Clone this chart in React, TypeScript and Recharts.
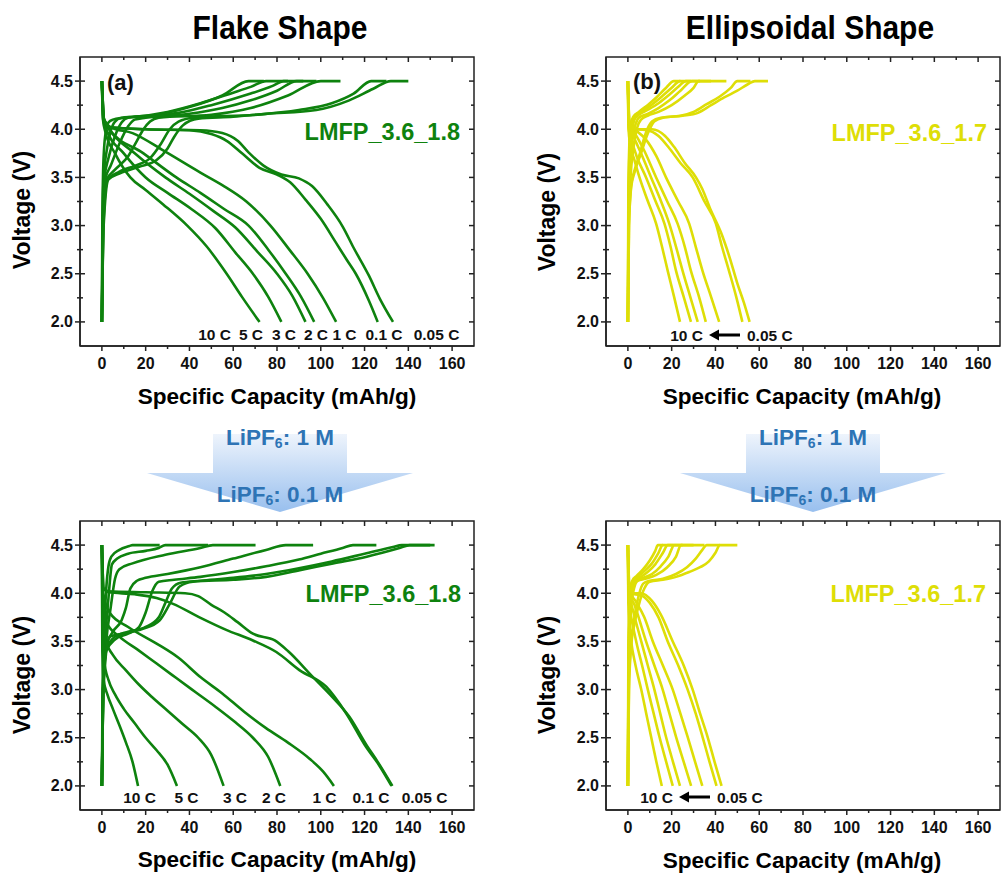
import React from 'react';
import { LineChart, Line, XAxis, YAxis, ReferenceArea } from 'recharts';

type Pt = [number, number];

// ---------- labels ----------
const RATES = ['10 C', '5 C', '3 C', '2 C', '1 C', '0.1 C', '0.05 C'];
const X_TICKS = [0, 10, 20, 30, 40, 50, 60, 70, 80, 90, 100, 110, 120, 130, 140, 150, 160];
const Y_TICKS = [2, 2.25, 2.5, 2.75, 3, 3.25, 3.5, 3.75, 4, 4.25, 4.5];
const X_DOMAIN: [number, number] = [-10, 170];
const Y_DOMAIN: [number, number] = [1.75, 4.75];

// ---------- Flake shape, LiPF6 1 M (order: 10C, 5C, 3C, 2C, 1C, 0.1C, 0.05C) ----------
const FLAKE_1M_CHARGE: Pt[][] = [
  [[0, 2], [0.2, 3.0], [0.5, 3.5], [1, 3.8], [2, 4.0], [3, 4.07], [5, 4.1], [10, 4.12], [25, 4.15], [40, 4.23], [55, 4.35], [67, 4.5], [74, 4.5]],
  [[0, 2], [0.3, 3.0], [0.8, 3.5], [2, 3.75], [4, 3.98], [6, 4.08], [9, 4.12], [15, 4.13], [30, 4.18], [45, 4.27], [60, 4.38], [68, 4.44], [75, 4.5], [85, 4.5]],
  [[0, 2], [0.4, 3.0], [1.2, 3.5], [3, 3.7], [6, 3.93], [9, 4.07], [12, 4.12], [18, 4.13], [35, 4.17], [50, 4.25], [68, 4.37], [78, 4.45], [83, 4.5], [92, 4.5]],
  [[0, 2], [0.5, 3.0], [1.5, 3.48], [4, 3.62], [8, 3.85], [12, 4.03], [15, 4.1], [20, 4.12], [40, 4.16], [55, 4.22], [68, 4.3], [80, 4.4], [89, 4.5], [98, 4.5]],
  [[0, 2], [0.6, 3.0], [2, 3.47], [6, 3.58], [12, 3.72], [16, 3.88], [19, 4.0], [22, 4.08], [26, 4.12], [50, 4.15], [68, 4.22], [85, 4.35], [100, 4.5], [109, 4.5]],
  [[0, 2], [0.7, 3.0], [2.5, 3.47], [8, 3.56], [15, 3.62], [22, 3.7], [27, 3.85], [31, 4.0], [35, 4.08], [42, 4.12], [70, 4.15], [90, 4.2], [105, 4.27], [115, 4.37], [123, 4.5], [130, 4.5]],
  [[0, 2], [0.8, 3.0], [3, 3.48], [8, 3.54], [17, 3.61], [25, 3.68], [30, 3.8], [33, 3.92], [37, 4.04], [44, 4.11], [60, 4.13], [75, 4.16], [98, 4.2], [113, 4.3], [124, 4.42], [132, 4.5], [140, 4.5]],
];
const FLAKE_1M_DISCHARGE: Pt[][] = [
  [[0, 4.5], [0.5, 4.1], [1.5, 3.98], [6, 3.75], [13, 3.5], [20, 3.37], [28, 3.22], [39, 3.0], [48, 2.78], [57, 2.5], [64, 2.26], [72, 2.0]],
  [[0, 4.5], [0.6, 4.1], [2, 4.0], [10, 3.75], [20, 3.5], [30, 3.34], [41, 3.17], [52, 2.97], [61, 2.72], [69, 2.5], [76, 2.26], [82, 2.0]],
  [[0, 4.5], [0.7, 4.1], [3, 4.01], [15, 3.75], [29, 3.5], [40, 3.33], [51, 3.15], [61, 2.98], [71, 2.73], [80, 2.5], [87, 2.27], [93, 2.0]],
  [[0, 4.5], [0.8, 4.1], [3, 4.01], [19, 3.75], [34, 3.5], [45, 3.34], [56, 3.17], [67, 3.0], [76, 2.75], [84, 2.5], [91, 2.26], [97, 2.0]],
  [[0, 4.5], [1, 4.1], [4, 4.02], [14, 3.96], [28, 3.78], [45, 3.55], [55, 3.42], [66, 3.25], [77, 3.0], [86, 2.74], [94, 2.5], [101, 2.25], [107, 2.0]],
  [[0, 4.5], [1, 4.1], [4, 4.02], [20, 4.0], [40, 3.99], [50, 3.95], [57, 3.88], [64, 3.75], [72, 3.6], [80, 3.53], [86, 3.45], [93, 3.27], [100, 3.07], [107, 2.82], [112, 2.64], [116, 2.5], [122, 2.22], [126, 2.0]],
  [[0, 4.5], [1, 4.1], [4, 4.02], [20, 4.0], [45, 3.99], [55, 3.96], [62, 3.88], [67, 3.76], [74, 3.62], [82, 3.53], [90, 3.49], [96, 3.41], [103, 3.22], [110, 2.99], [115, 2.77], [122, 2.48], [127, 2.24], [133, 2.0]],
];

// ---------- Ellipsoidal shape, LiPF6 1 M ----------
const ELLIP_1M_CHARGE: Pt[][] = [
  [[0, 2], [0.2, 3.3], [0.6, 3.8], [1.2, 4.05], [2.5, 4.13], [5, 4.18], [9, 4.25], [13, 4.33], [17, 4.42], [21, 4.5], [24, 4.5]],
  [[0, 2], [0.3, 3.3], [0.8, 3.8], [1.6, 4.05], [3, 4.13], [6, 4.18], [10, 4.24], [15, 4.33], [20, 4.43], [23.8, 4.5], [29, 4.5]],
  [[0, 2], [0.3, 3.2], [0.9, 3.7], [1.8, 3.95], [3, 4.1], [5, 4.15], [9, 4.2], [14, 4.27], [19, 4.36], [23, 4.44], [26.5, 4.5], [33, 4.5]],
  [[0, 2], [0.4, 3.2], [1, 3.6], [2, 3.9], [3.5, 4.05], [5, 4.12], [9, 4.16], [14, 4.22], [19, 4.3], [24, 4.4], [29.3, 4.5], [38, 4.5]],
  [[0, 2], [0.4, 3.1], [1.2, 3.5], [2.5, 3.8], [4, 4.0], [6, 4.1], [9, 4.14], [14, 4.18], [20, 4.25], [26, 4.35], [30, 4.43], [32.3, 4.5], [45, 4.5]],
  [[0, 2], [0.5, 3.0], [1.5, 3.42], [3, 3.57], [5.5, 3.75], [8, 3.95], [11, 4.08], [15, 4.12], [24, 4.14], [30, 4.18], [36, 4.26], [42, 4.34], [47, 4.43], [50, 4.5], [56, 4.5]],
  [[0, 2], [0.5, 3.0], [1.5, 3.4], [3, 3.55], [6, 3.75], [9, 3.95], [12, 4.08], [16, 4.12], [25, 4.14], [32, 4.17], [38, 4.25], [44, 4.33], [50, 4.4], [55, 4.47], [58, 4.5], [64, 4.5]],
];
const ELLIP_1M_DISCHARGE: Pt[][] = [
  [[0, 4.5], [0.3, 4.0], [1, 3.85], [3, 3.68], [5.3, 3.5], [9, 3.26], [12.9, 3.02], [15.6, 2.78], [18.2, 2.53], [21, 2.27], [23.8, 2.0]],
  [[0, 4.5], [0.4, 4.0], [1.5, 3.9], [4, 3.72], [8.3, 3.5], [12.5, 3.26], [16.7, 3.02], [19.5, 2.78], [22, 2.53], [25.5, 2.26], [28.8, 2.0]],
  [[0, 4.5], [0.5, 4.02], [2, 3.95], [6, 3.75], [10.6, 3.5], [15, 3.26], [18.9, 3.02], [22, 2.78], [25, 2.53], [28.5, 2.26], [31.9, 2.0]],
  [[0, 4.5], [0.6, 4.03], [2.5, 3.98], [7, 3.8], [12.9, 3.5], [18, 3.25], [22.7, 3.02], [26, 2.78], [28.8, 2.53], [32.5, 2.26], [35.6, 2.0]],
  [[0, 4.5], [0.7, 4.05], [3, 4.0], [8, 3.9], [13, 3.72], [17.4, 3.5], [23, 3.25], [28, 3.02], [31, 2.78], [34.1, 2.53], [38, 2.26], [41.7, 2.0]],
  [[0, 4.5], [0.8, 4.05], [4, 4.0], [9, 3.99], [14, 3.93], [19, 3.8], [24, 3.65], [29.6, 3.5], [35, 3.25], [40.2, 3.02], [43, 2.78], [46.2, 2.53], [49.5, 2.26], [52.3, 2.0]],
  [[0, 4.5], [0.8, 4.05], [4, 4.0], [11, 4.0], [17, 3.93], [21, 3.82], [26, 3.65], [31.1, 3.5], [34, 3.38], [37.5, 3.18], [42.5, 2.93], [46.6, 2.66], [50, 2.4], [53, 2.2], [55.6, 2.0]],
];

// ---------- Flake shape, LiPF6 0.1 M ----------
const FLAKE_01M_CHARGE: Pt[][] = [
  [[0, 2], [0.3, 3.0], [1, 3.6], [2, 4.05], [3, 4.28], [4.3, 4.38], [8, 4.45], [12.6, 4.49], [14, 4.5], [26.4, 4.5]],
  [[0, 2], [0.5, 3.0], [1.5, 3.5], [3, 3.95], [4.6, 4.3], [7, 4.36], [12, 4.41], [20, 4.44], [26, 4.47], [29, 4.5], [48.5, 4.5]],
  [[0, 2], [0.6, 3.0], [2, 3.5], [4, 3.85], [6, 4.15], [8, 4.25], [14, 4.31], [29, 4.4], [45, 4.47], [50.7, 4.5], [70.2, 4.5]],
  [[0, 2], [0.5, 3.0], [2, 3.45], [5, 3.6], [9, 3.72], [11, 3.85], [13, 4.05], [16, 4.13], [20, 4.16], [30, 4.2], [45, 4.27], [60, 4.36], [75, 4.45], [84, 4.5], [96.5, 4.5]],
  [[0, 2], [0.6, 3.0], [2, 3.4], [6, 3.52], [12, 3.58], [17, 3.65], [20, 3.8], [23, 4.02], [26, 4.12], [33, 4.14], [45, 4.17], [60, 4.22], [75, 4.28], [90, 4.35], [100, 4.41], [110, 4.47], [114.7, 4.5], [125.4, 4.5]],
  [[0, 2], [0.6, 3.0], [2, 3.42], [6, 3.55], [12, 3.6], [20, 3.65], [26, 3.75], [29, 3.9], [32, 4.05], [36, 4.11], [45, 4.13], [60, 4.16], [75, 4.2], [90, 4.26], [105, 4.33], [120, 4.41], [133, 4.48], [137, 4.5], [150, 4.5]],
  [[0, 2], [0.7, 3.0], [3.5, 3.55], [9.6, 3.58], [18.7, 3.63], [26.4, 3.72], [31, 3.89], [35.5, 4.07], [41.6, 4.12], [60, 4.14], [75, 4.17], [90.4, 4.24], [105.6, 4.31], [121, 4.38], [136, 4.47], [140.6, 4.5], [152, 4.5]],
];
const FLAKE_01M_DISCHARGE: Pt[][] = [
  [[0, 4.5], [0.2, 3.4], [0.8, 3.1], [2.5, 2.95], [5, 2.8], [8, 2.63], [11, 2.45], [14, 2.25], [16.5, 2.0]],
  [[0, 4.5], [0.3, 3.7], [1, 3.3], [3, 3.1], [6, 2.95], [10, 2.8], [15, 2.65], [20, 2.5], [25, 2.37], [30, 2.22], [34.3, 2.0]],
  [[0, 4.5], [0.4, 3.8], [1.5, 3.52], [5, 3.36], [11, 3.2], [17, 3.05], [23, 2.92], [30, 2.78], [37, 2.64], [44, 2.5], [50, 2.32], [55.6, 2.0]],
  [[0, 4.5], [0.5, 3.95], [2, 3.7], [8, 3.55], [16, 3.42], [25, 3.27], [34, 3.12], [43, 2.97], [52, 2.82], [61, 2.66], [69, 2.5], [76, 2.3], [81.5, 2.0]],
  [[0, 4.5], [0.6, 4.0], [3.5, 3.8], [12, 3.65], [24.8, 3.48], [35, 3.33], [45, 3.13], [55, 2.96], [65, 2.77], [75, 2.6], [85, 2.45], [95, 2.28], [101, 2.15], [106, 2.0]],
  [[0, 4.5], [0.8, 4.05], [3, 4.01], [15, 3.99], [25, 3.95], [32.5, 3.89], [44.6, 3.75], [56.8, 3.62], [69, 3.51], [79.7, 3.39], [90.4, 3.2], [102.5, 3.03], [111.7, 2.75], [120.8, 2.4], [126.5, 2.22], [132.3, 2.0]],
  [[0, 4.5], [0.8, 4.05], [3, 4.02], [20, 4.01], [38, 4.0], [44, 3.97], [50, 3.88], [56, 3.8], [62, 3.7], [69, 3.58], [79, 3.51], [85, 3.4], [96, 3.14], [105, 2.93], [113, 2.72], [121, 2.42], [126, 2.25], [132.7, 2.0]],
];

// ---------- Ellipsoidal shape, LiPF6 0.1 M ----------
const ELLIP_01M_CHARGE: Pt[][] = [
  [[0, 2], [0.2, 3.3], [0.5, 3.8], [1, 4.05], [2, 4.13], [4, 4.18], [7, 4.25], [10, 4.34], [12.5, 4.44], [13.7, 4.5], [16, 4.5]],
  [[0, 2], [0.3, 3.3], [0.7, 3.8], [1.4, 4.05], [2.5, 4.13], [5, 4.18], [8, 4.24], [11, 4.31], [14, 4.42], [15.9, 4.5], [21, 4.5]],
  [[0, 2], [0.3, 3.3], [0.9, 3.8], [1.8, 4.05], [3, 4.13], [6, 4.17], [9, 4.22], [12.5, 4.3], [16, 4.42], [18.2, 4.5], [25, 4.5]],
  [[0, 2], [0.4, 3.3], [1.1, 3.8], [2.2, 4.05], [3.5, 4.13], [7, 4.16], [11, 4.2], [15, 4.28], [18.5, 4.38], [21.2, 4.5], [30, 4.5]],
  [[0, 2], [0.4, 3.3], [1.3, 3.8], [2.8, 4.05], [4.5, 4.13], [8, 4.15], [13, 4.19], [18, 4.27], [22, 4.38], [24.3, 4.5], [35, 4.5]],
  [[0, 2], [0.5, 3.1], [1.5, 3.5], [3, 3.75], [5, 3.98], [7, 4.1], [10, 4.13], [16, 4.15], [22, 4.2], [27, 4.27], [31, 4.36], [34, 4.45], [36, 4.5], [42, 4.5]],
  [[0, 2], [0.5, 3.0], [1.5, 3.45], [3, 3.68], [5, 3.88], [7.5, 4.05], [10, 4.12], [16, 4.14], [22, 4.17], [28, 4.22], [33, 4.27], [37, 4.33], [40, 4.42], [42, 4.5], [50, 4.5]],
];
const ELLIP_01M_DISCHARGE: Pt[][] = [
  [[0, 4.5], [0.2, 3.9], [0.6, 3.7], [1.5, 3.5], [3.5, 3.25], [6.1, 3.0], [8.3, 2.76], [10.6, 2.51], [13, 2.25], [15.5, 2.0]],
  [[0, 4.5], [0.3, 3.95], [1.2, 3.8], [3.8, 3.5], [6.5, 3.25], [9.1, 3.0], [11.8, 2.75], [14.4, 2.51], [17.5, 2.25], [20.5, 2.0]],
  [[0, 4.5], [0.4, 4.0], [2, 3.85], [6.1, 3.5], [9.1, 3.25], [12.1, 3.0], [14.8, 2.75], [17.4, 2.51], [20.6, 2.25], [23.8, 2.0]],
  [[0, 4.5], [0.5, 4.02], [3, 3.88], [8.3, 3.5], [12.1, 3.25], [15.9, 3.0], [19, 2.75], [22, 2.51], [25.5, 2.25], [28.9, 2.0]],
  [[0, 4.5], [0.6, 4.03], [3.5, 3.92], [7.5, 3.75], [11.4, 3.5], [16, 3.25], [20.5, 3.0], [24, 2.75], [27.3, 2.51], [30.7, 2.25], [34, 2.0]],
  [[0, 4.5], [0.8, 4.03], [3, 3.99], [6, 3.98], [10, 3.9], [14, 3.75], [18.2, 3.5], [23, 3.25], [27.3, 3.0], [31, 2.75], [34.1, 2.51], [37.3, 2.25], [40.5, 2.0]],
  [[0, 4.5], [0.8, 4.03], [3, 4.0], [6, 4.0], [11, 3.92], [15, 3.78], [20.5, 3.5], [25.5, 3.25], [29.6, 3.0], [33, 2.75], [36.4, 2.51], [39.6, 2.25], [42.8, 2.0]],
];

// ---------- styling / layout ----------
const FONT = "'Liberation Sans', Arial, Helvetica, sans-serif";
const GREEN = '#0E820E';
const YELLOW = '#DEDE06';
const AXIS = '#222222';
const LABEL_BLUE = '#2E74B5';
const PW = 394;
const PH = 289;

const toData = (pts: Pt[]) => pts.map(([x, y]) => ({ x, y }));

const XTick = (props: any) => {
  const { x, y, payload } = props;
  const v = payload.value;
  const major = Math.abs(v % 20) < 1e-6;
  const len = major ? 5 : 3;
  return (
    <g>
      <line x1={x} y1={y} x2={x} y2={y + len} stroke={AXIS} strokeWidth={1.5} />
      <line x1={x} y1={y - PH} x2={x} y2={y - PH + len} stroke={AXIS} strokeWidth={1.5} />
      {major && (
        <text x={x} y={y + 17} textAnchor="middle" dominantBaseline="central" fontFamily={FONT} fontWeight="bold" fontSize={16} fill="#111">
          {v}
        </text>
      )}
    </g>
  );
};

const YTick = (props: any) => {
  const { x, y, payload } = props;
  const v = payload.value;
  const major = Math.abs(v * 2 - Math.round(v * 2)) < 1e-6;
  const len = major ? 5 : 3;
  return (
    <g>
      <line x1={x - len} y1={y} x2={x + len} y2={y} stroke={AXIS} strokeWidth={1.5} />
      <line x1={x + PW - len} y1={y} x2={x + PW} y2={y} stroke={AXIS} strokeWidth={1.5} />
      {major && (
        <text x={x - 7} y={y} textAnchor="end" dominantBaseline="central" fontFamily={FONT} fontWeight="bold" fontSize={16} fill="#111">
          {v.toFixed(1)}
        </text>
      )}
    </g>
  );
};

type PanelProps = { left: number; top: number; color: string; charge: Pt[][]; discharge: Pt[][] };

const Panel = ({ left, top, color, charge, discharge }: PanelProps) => {
  const W = 80 + PW + 8;
  const H = 57 + PH + 70;
  const curves = [...charge, ...discharge];
  return (
    <div style={{ position: 'absolute', left: left - 80, top: top - 57 }}>
      <LineChart width={W} height={H} margin={{ top: 57, right: 8, left: 40, bottom: 40 }}>
        <XAxis
          type="number"
          dataKey="x"
          domain={X_DOMAIN}
          ticks={X_TICKS}
          interval={0}
          allowDataOverflow
          height={30}
          tickSize={0}
          tickMargin={0}
          tickLine={false}
          axisLine={{ stroke: AXIS, strokeWidth: 1.5 }}
          tick={(p: any) => <XTick {...p} />}
        />
        <YAxis
          type="number"
          domain={Y_DOMAIN}
          ticks={Y_TICKS}
          interval={0}
          allowDataOverflow
          width={40}
          tickSize={0}
          tickMargin={0}
          tickLine={false}
          axisLine={{ stroke: AXIS, strokeWidth: 1.5 }}
          tick={(p: any) => <YTick {...p} />}
        />
        {curves.map((c, i) => (
          <Line
            key={`c${i}`}
            data={toData(c)}
            dataKey="y"
            type="monotone"
            stroke={color}
            strokeWidth={2.6}
            dot={false}
            activeDot={false}
            isAnimationActive={false}
          />
        ))}
        <ReferenceArea x1={X_DOMAIN[0]} x2={X_DOMAIN[1]} y1={Y_DOMAIN[0]} y2={Y_DOMAIN[1]} fill="none" stroke={AXIS} strokeWidth={1.5} />
      </LineChart>
    </div>
  );
};

const FLAKE_RATE_X_TOP = [214.5, 251, 284, 316, 344.5, 384, 436.5];
const FLAKE_RATE_X_BOTTOM = [139.5, 186.5, 235, 274, 324.5, 371, 424.5];

const txt = (extra: any) => ({ fontFamily: FONT, fontWeight: 'bold' as const, ...extra });

const BigArrow = ({ cx, id }: { cx: number; id: string }) => (
  <g>
    <path
      d={`M ${cx - 67} 434 L ${cx + 67} 434 L ${cx + 67} 473 L ${cx + 133} 473 L ${cx} 512 L ${cx - 133} 473 L ${cx - 67} 473 Z`}
      fill={`url(#${id})`}
    />
    <text x={cx} y={437} textAnchor="middle" dominantBaseline="central" {...txt({ fontSize: 22.5, fill: LABEL_BLUE })}>
      LiPF<tspan fontSize={14} dy={6}>6</tspan>
      <tspan dy={-6}>: 1 M</tspan>
    </text>
    <text x={cx} y={494} textAnchor="middle" dominantBaseline="central" {...txt({ fontSize: 22.5, fill: LABEL_BLUE })}>
      LiPF<tspan fontSize={14} dy={6}>6</tspan>
      <tspan dy={-6}>: 0.1 M</tspan>
    </text>
  </g>
);

const RateArrow = ({ x10, y }: { x10: number; y: number }) => (
  <g>
    <text x={x10} y={y} textAnchor="end" dominantBaseline="central" {...txt({ fontSize: 15.5, fill: '#111' })}>
      {RATES[0]}
    </text>
    <line x1={x10 + 14} y1={y} x2={x10 + 37} y2={y} stroke="#000" strokeWidth={3} />
    <polygon points={`${x10 + 6},${y} ${x10 + 16},${y - 5.5} ${x10 + 16},${y + 5.5}`} fill="#000" />
    <text x={x10 + 44} y={y} textAnchor="start" dominantBaseline="central" {...txt({ fontSize: 15.5, fill: '#111' })}>
      {RATES[6]}
    </text>
  </g>
);

export default function App() {
  return (
    <div style={{ position: 'absolute', left: 0, top: 0, width: 1001, height: 876, background: '#fff', overflow: 'hidden' }}>
      <Panel left={80} top={57} color={GREEN} charge={FLAKE_1M_CHARGE} discharge={FLAKE_1M_DISCHARGE} />
      <Panel left={606} top={57} color={YELLOW} charge={ELLIP_1M_CHARGE} discharge={ELLIP_1M_DISCHARGE} />
      <Panel left={80} top={521} color={GREEN} charge={FLAKE_01M_CHARGE} discharge={FLAKE_01M_DISCHARGE} />
      <Panel left={606} top={521} color={YELLOW} charge={ELLIP_01M_CHARGE} discharge={ELLIP_01M_DISCHARGE} />

      <svg width={1001} height={876} style={{ position: 'absolute', left: 0, top: 0, pointerEvents: 'none' }}>
        <defs>
          <linearGradient id="gradL" x1="0" y1="0" x2="0" y2="1">
            <stop offset="0" stopColor="#EEF4FC" />
            <stop offset="1" stopColor="#98BFEE" />
          </linearGradient>
          <linearGradient id="gradR" x1="0" y1="0" x2="0" y2="1">
            <stop offset="0" stopColor="#EEF4FC" />
            <stop offset="1" stopColor="#98BFEE" />
          </linearGradient>
        </defs>

        {/* titles */}
        <text x={280} y={27} textAnchor="middle" dominantBaseline="central" transform="translate(0 -2.7) scale(1 1.1)" {...txt({ fontSize: 30, fill: '#000' })}>Flake Shape</text>
        <text x={810} y={27} textAnchor="middle" dominantBaseline="central" transform="translate(0 -2.7) scale(1 1.1)" {...txt({ fontSize: 30, fill: '#000' })}>Ellipsoidal Shape</text>

        {/* axis titles */}
        {[[277, 396], [802, 396], [277, 859], [802, 860]].map(([x, y], i) => (
          <text key={`xt${i}`} x={x} y={y} textAnchor="middle" dominantBaseline="central" {...txt({ fontSize: 22.6, fill: '#000' })}>
            Specific Capacity (mAh/g)
          </text>
        ))}
        {[[22, 210], [547, 212], [22, 675], [547, 675]].map(([x, y], i) => (
          <text key={`yt${i}`} x={x} y={y} transform={`rotate(-90 ${x} ${y})`} textAnchor="middle" dominantBaseline="central" {...txt({ fontSize: 23, fill: '#000' })}>
            Voltage (V)
          </text>
        ))}

        {/* panel letters */}
        <text x={107} y={82} dominantBaseline="central" {...txt({ fontSize: 22, fill: '#111' })}>(a)</text>
        <text x={633} y={81} dominantBaseline="central" {...txt({ fontSize: 22, fill: '#111' })}>(b)</text>

        {/* sample names */}
        <text x={460} y={132} textAnchor="end" dominantBaseline="central" {...txt({ fontSize: 23.5, fill: GREEN })}>LMFP_3.6_1.8</text>
        <text x={987} y={133} textAnchor="end" dominantBaseline="central" {...txt({ fontSize: 23.5, fill: YELLOW })}>LMFP_3.6_1.7</text>
        <text x={461} y={594} textAnchor="end" dominantBaseline="central" {...txt({ fontSize: 23.5, fill: GREEN })}>LMFP_3.6_1.8</text>
        <text x={986} y={594} textAnchor="end" dominantBaseline="central" {...txt({ fontSize: 23.5, fill: YELLOW })}>LMFP_3.6_1.7</text>

        {/* rate labels */}
        {RATES.map((r, i) => (
          <text key={`rt${i}`} x={FLAKE_RATE_X_TOP[i]} y={334} textAnchor="middle" dominantBaseline="central" {...txt({ fontSize: 15.5, fill: '#111' })}>{r}</text>
        ))}
        {RATES.map((r, i) => (
          <text key={`rb${i}`} x={FLAKE_RATE_X_BOTTOM[i]} y={797} textAnchor="middle" dominantBaseline="central" {...txt({ fontSize: 15.5, fill: '#111' })}>{r}</text>
        ))}
        <RateArrow x10={703} y={335} />
        <RateArrow x10={673} y={797} />

        {/* electrolyte arrows */}
        <BigArrow cx={280} id="gradL" />
        <BigArrow cx={813} id="gradR" />
      </svg>
    </div>
  );
}
